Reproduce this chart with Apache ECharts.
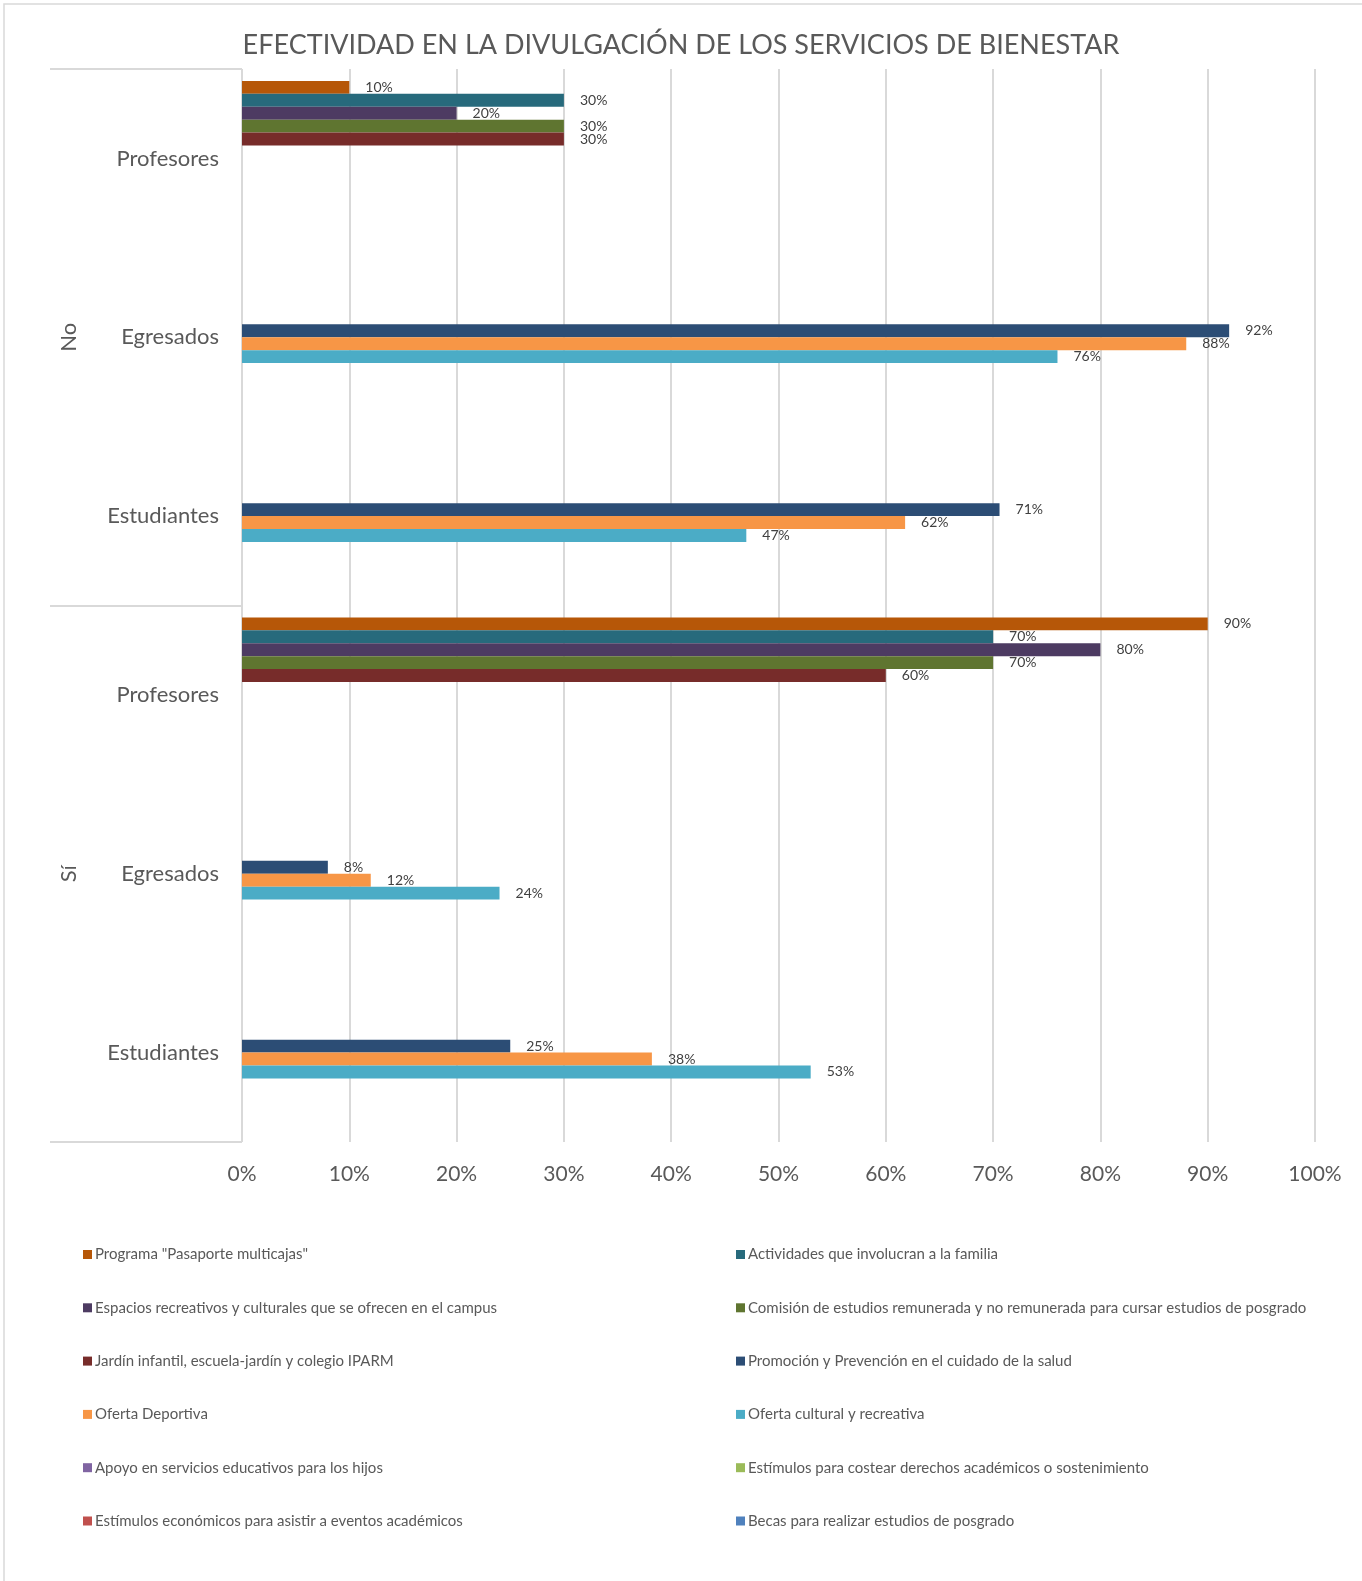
<!DOCTYPE html>
<html>
<head>
<meta charset="utf-8">
<title>Efectividad en la divulgación</title>
<script src="https://cdn.jsdelivr.net/npm/echarts@6/dist/echarts.min.js"></script>
<style>
  html, body { margin: 0; padding: 0; background: #fff; }
  #main { width: 1362px; height: 1581px; }
</style>
</head>
<body>
<div id="main"></div>
<script>
// categorías: grupo externo (No / Sí) y población
const grupos = ['No', 'Sí'];
const poblaciones = ['Profesores', 'Egresados', 'Estudiantes'];
const xTicks = [0, 10, 20, 30, 40, 50, 60, 70, 80, 90, 100];

// valores (%) por categoría: No-Profesores, No-Egresados, No-Estudiantes, Sí-Profesores, Sí-Egresados, Sí-Estudiantes
const programaPasaporte = [10, '-', '-', 90, '-', '-'];
const actividadesFamilia = [30, '-', '-', 70, '-', '-'];
const espaciosRecreativos = [20, '-', '-', 80, '-', '-'];
const comisionEstudios = [30, '-', '-', 70, '-', '-'];
const jardinInfantil = [30, '-', '-', 60, '-', '-'];
const promocionSalud = ['-', 92, 70.6, '-', 8, 25];
const ofertaDeportiva = ['-', 88, 61.8, '-', 12, 38.2];
const ofertaCultural = ['-', 76, 47, '-', 24, 53];
const apoyoHijos = ['-', '-', '-', '-', '-', '-'];
const estimulosCostear = ['-', '-', '-', '-', '-', '-'];
const estimulosEventos = ['-', '-', '-', '-', '-', '-'];
const becasPosgrado = ['-', '-', '-', '-', '-', '-'];

const nombres = [
  'Programa "Pasaporte multicajas"',
  'Actividades que involucran a la familia',
  'Espacios recreativos y culturales que se ofrecen en el campus',
  'Comisión de estudios remunerada y no remunerada para cursar estudios de posgrado',
  'Jardín infantil, escuela-jardín y colegio IPARM',
  'Promoción y Prevención en el cuidado de la salud',
  'Oferta Deportiva',
  'Oferta cultural y recreativa',
  'Apoyo en servicios educativos para los hijos',
  'Estímulos para costear derechos académicos o sostenimiento',
  'Estímulos económicos para asistir a eventos académicos',
  'Becas para realizar estudios de posgrado'
];
const valores = [programaPasaporte, actividadesFamilia, espaciosRecreativos, comisionEstudios,
  jardinInfantil, promocionSalud, ofertaDeportiva, ofertaCultural, apoyoHijos,
  estimulosCostear, estimulosEventos, becasPosgrado];
const colores = ['#B65708', '#276A7C', '#4D3B62', '#5F7530', '#772C2A', '#2C4D75',
  '#F79646', '#4BACC6', '#8064A2', '#9BBB59', '#C0504D', '#4F81BD'];

const fuente = 'Lato, "Open Sans", sans-serif';
const gris = '#595959';

let categorias = [];
grupos.forEach(g => poblaciones.forEach(p => categorias.push(g + '|' + p)));

let myChart = echarts.init(document.getElementById('main'));

let series = nombres.map((n, i) => ({
  name: n,
  type: 'bar',
  yAxisIndex: 0,
  barGap: 0,
  barCategoryGap: '13.3%',
  itemStyle: { color: colores[i] },
  label: {
    show: true,
    position: 'right',
    distance: 16,
    color: '#404040',
    fontSize: 14,
    fontFamily: fuente,
    formatter: p => Math.round(p.value) + '%'
  },
  data: valores[i]
}));

let legendItem = (idx) => idx.map(i => nombres[i]);

let option = {
  backgroundColor: '#fff',
  animation: false,
  textStyle: { fontFamily: fuente },
  title: {
    text: 'EFECTIVIDAD EN LA DIVULGACIÓN DE LOS SERVICIOS DE BIENESTAR',
    left: 'center',
    top: 27,
    textStyle: { fontSize: 27, fontWeight: 'normal', color: gris, fontFamily: fuente }
  },
  graphic: [{
    type: 'rect',
    shape: { x: 4, y: 4, width: 1400, height: 1600 },
    style: { fill: 'none', stroke: '#d9d9d9', lineWidth: 1.5 },
    silent: true
  }],
  legend: [{
    orient: 'vertical',
    left: 78,
    top: 1242,
    itemWidth: 9,
    itemHeight: 9,
    itemGap: 38.3,
    icon: 'rect',
    textStyle: { fontSize: 15, color: gris, fontFamily: fuente, padding: [0, 0, 0, -2] },
    data: legendItem([0, 2, 4, 6, 8, 10])
  }, {
    orient: 'vertical',
    left: 731,
    top: 1242,
    itemWidth: 9,
    itemHeight: 9,
    itemGap: 38.3,
    icon: 'rect',
    textStyle: { fontSize: 15, color: gris, fontFamily: fuente, padding: [0, 0, 0, -2] },
    data: legendItem([1, 3, 5, 7, 9, 11])
  }],
  grid: { left: 242, right: 47, top: 69, bottom: 439, containLabel: false },
  xAxis: {
    type: 'value',
    min: 0,
    max: 100,
    interval: 10,
    axisLine: { show: false },
    axisTick: { show: false },
    splitLine: { show: true, lineStyle: { color: '#d9d9d9', width: 2 } },
    axisLabel: {
      color: gris, fontSize: 21, margin: 22, fontFamily: fuente,
      formatter: v => v + '%'
    }
  },
  yAxis: [{
    type: 'category',
    inverse: true,
    data: categorias,
    axisLine: { show: false },
    axisTick: { show: false },
    axisLabel: {
      color: gris, fontSize: 22, margin: 23, fontFamily: fuente,
      formatter: v => v.split('|')[1]
    }
  }, {
    type: 'category',
    inverse: true,
    position: 'left',
    data: grupos,
    axisLine: { show: false },
    axisTick: { show: true, length: 192, lineStyle: { color: '#d9d9d9', width: 2 } },
    axisLabel: {
      color: gris, fontSize: 22, margin: 162, rotate: 90, fontFamily: fuente
    }
  }],
  series: series
};

myChart.setOption(option);
</script>
</body>
</html>
